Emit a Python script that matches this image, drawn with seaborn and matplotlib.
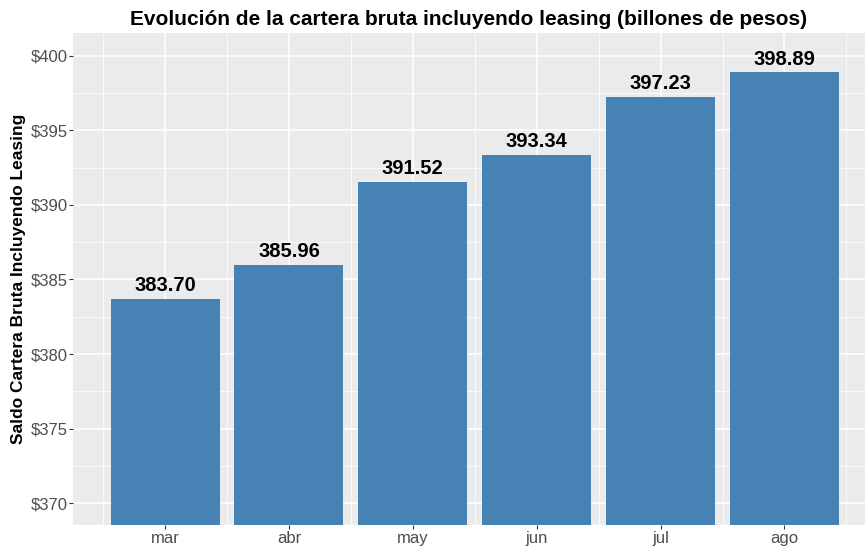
import matplotlib
matplotlib.use("Agg")
import matplotlib.pyplot as plt
from matplotlib.ticker import MultipleLocator, FuncFormatter
import seaborn as sns
import pandas as pd

# ── datos ─────────────────────────────────────────────────────────────────────
meses = ["mar", "abr", "may", "jun", "jul", "ago"]
saldo = [383.70, 385.96, 391.52, 393.34, 397.23, 398.89]

df = pd.DataFrame({"mes": meses, "saldo": saldo})

sns.set_theme(style="darkgrid", rc={
    "axes.facecolor": "#EBEBEB",
    "grid.color": "white",
    "axes.edgecolor": "#EBEBEB",
})
plt.rcParams["font.family"] = ["Liberation Sans", "DejaVu Sans"]

fig, ax = plt.subplots(figsize=(8.65, 5.48), dpi=100)
fig.subplots_adjust(left=0.0845, right=1.0, top=0.94, bottom=0.042)

sns.barplot(data=df, x="mes", y="saldo", color="#4682B4", saturation=1,
            width=0.88, linewidth=0, ax=ax, zorder=2)

for i, v in enumerate(saldo):
    ax.text(i, v + 0.25, f"{v:.2f}", ha="center", va="bottom",
            fontsize=14.5, fontweight="bold", color="black", zorder=3)

ax.set_ylim(368.54, 401.53)
ax.set_xlim(-0.7425, 5.65)

ax.yaxis.set_major_locator(MultipleLocator(5))
ax.yaxis.set_minor_locator(MultipleLocator(2.5))
ax.yaxis.set_major_formatter(FuncFormatter(lambda v, _: f"${v:.0f}"))
ax.set_xticks(range(len(meses)))
ax.set_xticks([i - 0.5 for i in range(len(meses) + 1)], minor=True)

ax.grid(which="major", color="white", linewidth=1.1)
ax.grid(which="minor", color="white", linewidth=0.55)
ax.set_axisbelow(True)
for s in ax.spines.values():
    s.set_visible(False)

ax.tick_params(axis="both", which="major", length=3, width=0.8, color="#333333",
               labelsize=12, labelcolor="#4D4D4D", pad=1, left=True, bottom=True)
ax.tick_params(axis="both", which="minor", length=0)

ax.set_xlabel("")
ax.set_ylabel("Saldo Cartera Bruta Incluyendo Leasing", fontsize=12.5,
              fontweight="bold", color="black", labelpad=3)
ax.set_title("Evolución de la cartera bruta incluyendo leasing (billones de pesos)",
             fontsize=15, fontweight="bold", color="black", pad=6)

fig.savefig("out.png", dpi=100)
